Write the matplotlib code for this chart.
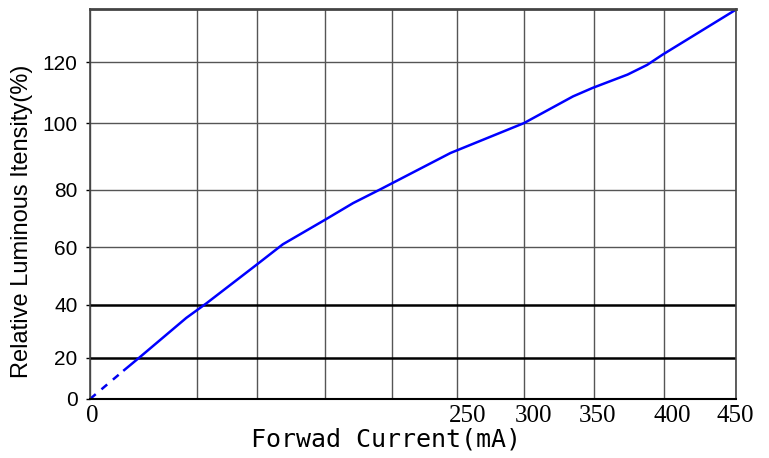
import numpy as np
import matplotlib
matplotlib.use("Agg")
import matplotlib.pyplot as plt
import matplotlib.transforms as mtransforms

# curve
current_dashed = [0, 16]
lum_dashed = [0, 14]
current = [16, 23, 45, 58, 100, 119, 150, 171, 191, 245, 300,
           335, 349, 374, 388, 399, 450]
luminous = [14, 20, 35, 40.5, 54, 61, 69.5, 75.3, 80, 91, 100,
            108.8, 111.6, 116, 119.2, 122.6, 137.6]

x_grid = [0, 50, 100, 150, 200, 250, 300, 350, 400, 450]
x_labels = ['0', '', '', '', '', '250', '300', '350', '400', '450']
y_grid = [0, 20, 40, 60, 80, 100, 120]
y_labels = ['0', '20', '40', '60', '80', '100', '120']

# the original paper grid is hand drawn, spacing is not even
x_px = [0, 107, 167, 235, 302, 367, 434, 504, 574, 646]
y_vals_map = [0, 20, 40, 60, 80, 100, 120, 140]
y_px = [0, 41.3, 94.3, 151.7, 209.3, 275.7, 336.3, 396.3]


def xf(v):
    return np.interp(v, x_grid, x_px)


def xi(p):
    return np.interp(p, x_px, x_grid)


def yf(v):
    return np.interp(v, y_vals_map, y_px)


def yi(p):
    return np.interp(p, y_px, y_vals_map)


fig = plt.figure(figsize=(7.69, 4.58), dpi=100)
ax = fig.add_axes([90 / 769, 59 / 458, 646 / 769, 390 / 458])
ax.set_xscale('function', functions=(xf, xi))
ax.set_yscale('function', functions=(yf, yi))

ax.plot(current_dashed, lum_dashed, color='#0000ee', lw=1.8, ls=(0, (3, 3)))
ax.plot(current, luminous, color='#0000ff', lw=1.8)

ax.set_xlim(0, 450)
ax.set_ylim(0, 137.8)
ax.set_xticks(x_grid)
ax.set_xticklabels(x_labels, family='Liberation Serif', fontsize=18)
ax.set_yticks(y_grid)
ax.set_yticklabels(y_labels, family='Liberation Sans', fontsize=15)
ax.tick_params(axis='x', length=0, pad=4)
ax.tick_params(axis='y', length=3, width=1, pad=6)
ax.minorticks_off()

# labels sit a little right of their gridlines in the original
shifts = [2, 0, 0, 0, 0, 11, 9, 4, 8, -1]
for lab, dx in zip(ax.get_xticklabels(), shifts):
    lab.set_transform(lab.get_transform() +
                      mtransforms.ScaledTranslation(dx / 100, 0, fig.dpi_scale_trans))

ax.grid(True, color='#555555', lw=1.0)
for g, v in zip(ax.yaxis.get_gridlines(), y_grid):
    if v in (20, 40):
        g.set_color('black')
        g.set_linewidth(1.8)

for s in ax.spines.values():
    s.set_color('#444444')
    s.set_linewidth(1.2)
ax.spines['top'].set_linewidth(2)
ax.spines['bottom'].set_color('black')
ax.spines['bottom'].set_linewidth(1.5)

fig.text(386 / 769, 18 / 458, 'Forwad Current(mA)', family='DejaVu Sans Mono',
         fontsize=18, ha='center', va='center')
fig.text(22 / 769, 237 / 458, 'Relative Luminous Itensity(%)', family='Liberation Sans',
         fontsize=17, rotation=90, ha='center', va='center')

fig.savefig('out.png', dpi=100)
